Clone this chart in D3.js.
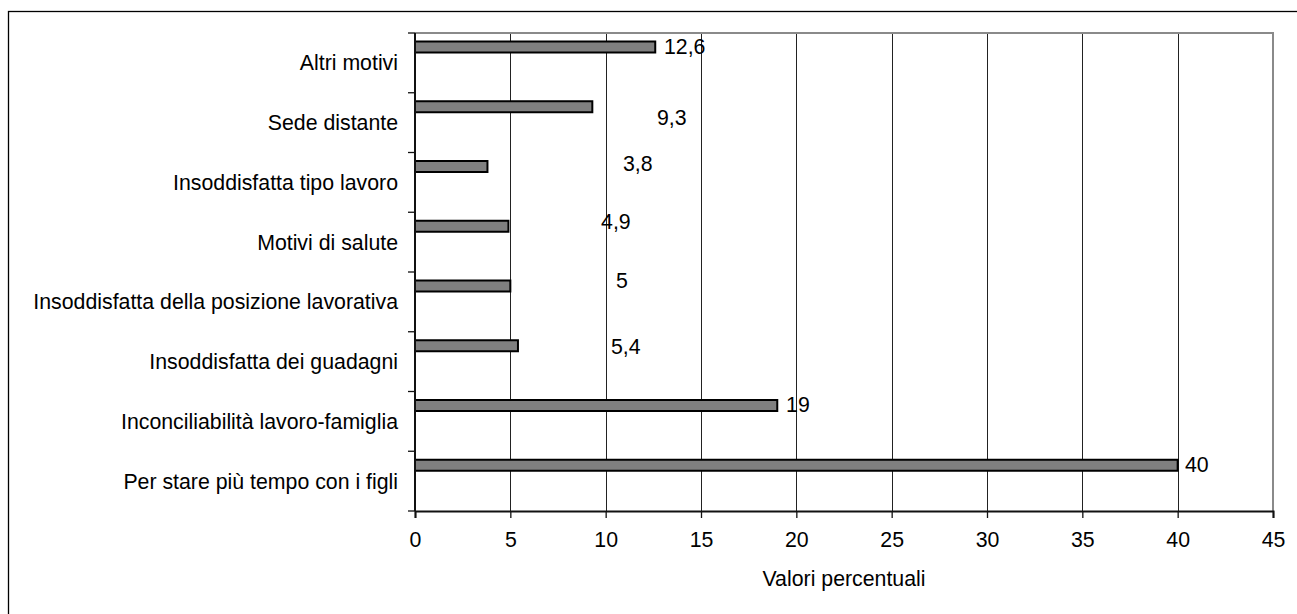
<!DOCTYPE html>
<html>
<head>
<meta charset="utf-8">
<script src="https://cdn.jsdelivr.net/npm/d3@7"></script>
<style>
  html, body { margin: 0; padding: 0; background: #fff; }
  svg { display: block; font-family: Arial, "Liberation Sans", sans-serif; }
</style>
</head>
<body>
<svg id="chart" width="1297" height="614"></svg>
<script>
// ---- data ----
const categories = [
  "Altri motivi",
  "Sede distante",
  "Insoddisfatta tipo lavoro",
  "Motivi di salute",
  "Insoddisfatta della posizione lavorativa",
  "Insoddisfatta dei guadagni",
  "Inconciliabilità lavoro-famiglia",
  "Per stare più tempo con i figli"
];
const values = [12.6, 9.3, 3.8, 4.9, 5, 5.4, 19, 40];
const valueLabels = ["12,6", "9,3", "3,8", "4,9", "5", "5,4", "19", "40"];
const xTickValues = [0, 5, 10, 15, 20, 25, 30, 35, 40, 45];
const xAxisTitle = "Valori percentuali";

// ---- layout (manually placed data labels, as in the original) ----
const labelAt = [13.06, 12.69, 10.91, 9.76, 10.54, 10.28, 19.46, 40.38]; // value units
const labelBaseline = [0.35, 0.54, 0.31, 0.28, 0.27, 0.37, 0.34, 0.35]; // fraction of band

const svg = d3.select("#chart");
const W = 1297, H = 614;
const plot = { left: 415, right: 1273, top: 33, bottom: 511 };
const fontSize = 21.3;

// outer frame
svg.append("rect")
  .attr("x", 8.5).attr("y", 11.5)
  .attr("width", W + 20).attr("height", H + 20)
  .attr("fill", "#fff").attr("stroke", "#000").attr("stroke-width", 1.3);

const x = d3.scaleLinear().domain([0, 45]).range([plot.left, plot.right]);
const y = d3.scaleBand().domain(categories).range([plot.top, plot.bottom]).padding(0);

// gridlines
svg.append("g").selectAll("line")
  .data(xTickValues.filter(d => d > 0 && d < 45))
  .join("line")
  .attr("x1", d => Math.round(x(d)) + 0.5).attr("x2", d => Math.round(x(d)) + 0.5)
  .attr("y1", plot.top).attr("y2", plot.bottom)
  .attr("stroke", "#222").attr("stroke-width", 1);

// plot border (top & right gray)
svg.append("path")
  .attr("d", `M${plot.left},${plot.top}H${plot.right}V${plot.bottom}`)
  .attr("fill", "none").attr("stroke", "#8a8a8a").attr("stroke-width", 2);

// bars
const bandH = y.bandwidth();
svg.append("g").selectAll("rect")
  .data(categories)
  .join("rect")
  .attr("x", x(0))
  .attr("y", d => y(d) + 8.5)
  .attr("width", (d, i) => x(values[i]) - x(0))
  .attr("height", 11)
  .attr("fill", "#808080")
  .attr("stroke", "#000")
  .attr("stroke-width", 2);

// x axis
const xAxis = d3.axisBottom(x).tickValues(xTickValues).tickSize(7).tickPadding(14)
  .tickFormat(d3.format("d"));
const gx = svg.append("g").attr("transform", `translate(0,${plot.bottom})`).call(xAxis);
gx.select(".domain").attr("stroke", "#111").attr("stroke-width", 2);
gx.selectAll(".tick line").attr("stroke", "#111").attr("stroke-width", 1.3);
gx.selectAll(".tick text").attr("font-size", fontSize).attr("fill", "#000")
  .attr("font-family", "Arial, 'Liberation Sans', sans-serif");

// y axis: ticks at band boundaries
const yTickPos = categories.map(c => y(c)).concat([plot.bottom]);
svg.append("line")
  .attr("x1", plot.left).attr("x2", plot.left)
  .attr("y1", plot.top).attr("y2", plot.bottom)
  .attr("stroke", "#111").attr("stroke-width", 2);
svg.append("g").selectAll("line")
  .data(yTickPos)
  .join("line")
  .attr("x1", plot.left - 7).attr("x2", plot.left)
  .attr("y1", d => d).attr("y2", d => d)
  .attr("stroke", "#111").attr("stroke-width", 1.3);

// category labels
svg.append("g").selectAll("text")
  .data(categories)
  .join("text")
  .attr("x", 398)
  .attr("y", d => y(d) + bandH / 2)
  .attr("dy", "0.35em")
  .attr("text-anchor", "end")
  .attr("font-size", fontSize)
  .attr("fill", "#000")
  .text(d => d);

// value labels
svg.append("g").selectAll("text")
  .data(valueLabels)
  .join("text")
  .attr("x", (d, i) => x(labelAt[i]))
  .attr("y", (d, i) => y(categories[i]) + labelBaseline[i] * bandH)
  .attr("font-size", fontSize)
  .attr("fill", "#000")
  .text(d => d);

// x axis title
svg.append("text")
  .attr("x", (plot.left + plot.right) / 2)
  .attr("y", 586)
  .attr("text-anchor", "middle")
  .attr("font-size", fontSize)
  .attr("fill", "#000")
  .text(xAxisTitle);
</script>
</body>
</html>
